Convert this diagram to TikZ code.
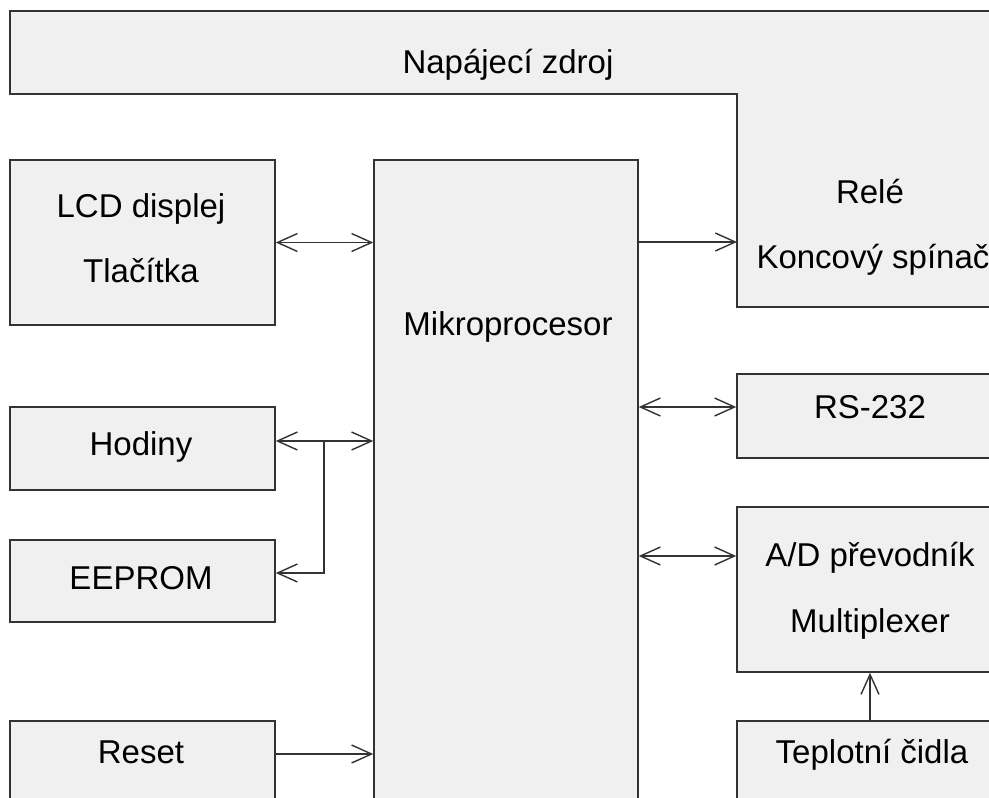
\documentclass[tikz,border=0pt]{standalone}
\usepackage{fontspec}
\setmainfont{Liberation Sans}
\usetikzlibrary{arrows.meta,calc}
\definecolor{boxfill}{HTML}{F0F0F0}
\definecolor{edge}{HTML}{333333}
\begin{document}
\begin{tikzpicture}[x=1pt,y=-1pt,
  blk/.style={draw=edge,fill=boxfill,line width=1.5pt,inner sep=0pt},
  txt/.style={font=\fontsize{33}{40}\selectfont,text=black,inner sep=0pt,anchor=base},
  conn/.style={draw=edge,line width=1.4pt},
  tip/.style={-{Straight Barb[length=20pt,width=18pt,line width=1.4pt]}},
  tips/.style={{Straight Barb[length=20pt,width=18pt,line width=1.4pt]}-{Straight Barb[length=20pt,width=18pt,line width=1.4pt]}}]
\useasboundingbox (0,0) rectangle (989,798);
\clip (0,0) rectangle (989,798);
\fill[white] (0,0) rectangle (989,798);
% power supply + relay polygon
\draw[blk] (10,11) -- (1010,11) -- (1010,307) -- (737,307) -- (737,94) -- (10,94) -- cycle;
\node[txt] (zdroj) at (508,73) {Napájecí zdroj};
\node[txt] (rele) at (870,203) {Relé};
\node[txt] (spinac) at (873,268) {Koncový spínač};
\coordinate (releIn) at (737,242);
% left boxes
\node[blk,minimum width=265pt,minimum height=165pt] (lcd) at (142.5,242.5) {};
\node[txt] at (141,217) {LCD displej};
\node[txt] at (141,282) {Tlačítka};
\node[blk,minimum width=265pt,minimum height=83pt] (hod) at (142.5,448.5) {};
\node[txt] at (141,455) {Hodiny};
\node[blk,minimum width=265pt,minimum height=82pt] (eeprom) at (142.5,581) {};
\node[txt] at (141,589) {EEPROM};
\node[blk,minimum width=265pt,minimum height=160pt] (reset) at (142.5,801) {};
\node[txt] at (141,763) {Reset};
% microprocessor
\node[blk,minimum width=264pt,minimum height=680pt] (mikro) at (506,500) {};
\node[txt] at (508,335) {Mikroprocesor};
% right boxes
\node[blk,minimum width=266pt,minimum height=84pt] (rs) at (870,416) {};
\node[txt] at (870,418) {RS-232};
\node[blk,minimum width=266pt,minimum height=165pt] (ad) at (870,589.5) {};
\node[txt] at (870,566) {A/D převodník};
\node[txt] at (870,632) {Multiplexer};
\node[blk,minimum width=266pt,minimum height=160pt] (tep) at (870,801) {};
\node[txt] at (872,763) {Teplotní čidla};
% connectors
\coordinate (hj) at (324,441);
\draw[conn,tips] (lcd.east) -- (lcd.east -| mikro.west);
\draw[conn,tips] (hod.east |- hj) -- (hj -| mikro.west);
\draw[conn,tip] (hj) -- (324,573) -- (eeprom.east |- 0,573);
\draw[conn,tip] (reset.east |- 0,754) -- (mikro.west |- 0,754);
\draw[conn,tip] (mikro.east |- releIn) -- (releIn);
\draw[conn,tips] (mikro.east |- 0,407) -- (rs.west |- 0,407);
\draw[conn,tips] (mikro.east |- 0,556) -- (ad.west |- 0,556);
\draw[conn,tip] (tep.north) -- (ad.south);
\end{tikzpicture}
\end{document}
